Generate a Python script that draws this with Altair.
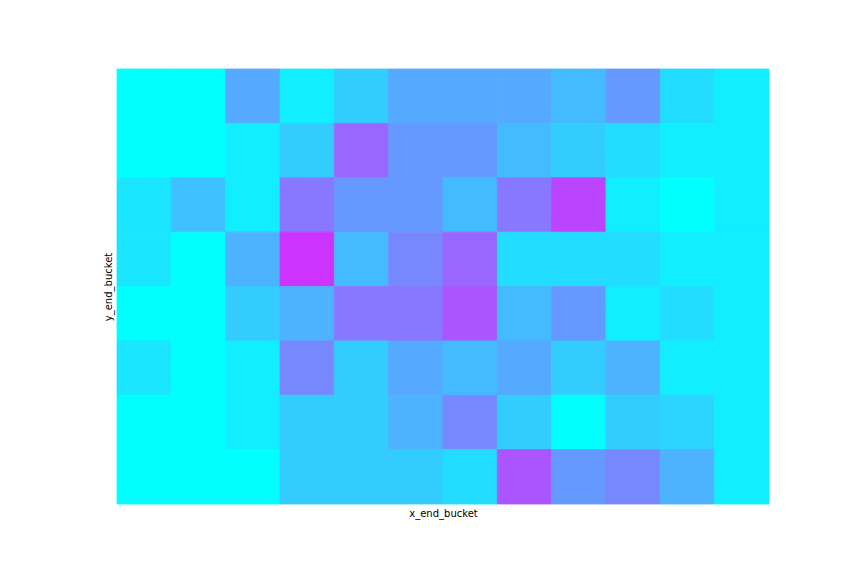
import altair as alt
import pandas as pd

x_buckets = list(range(12))
y_buckets = list(range(8))

# counts per row (top row first)
row0 = [0, 0, 5, 1, 3, 5, 5, 5, 4, 6, 2, 1]
row1 = [0, 0, 1, 3, 9, 6, 6, 4, 3, 2, 1, 1]
row2 = [1.5, 3.7, 1, 8, 6, 6, 4, 8, 11, 1, 0, 1]
row3 = [1.5, 0, 4.5, 12, 4, 7, 9, 2, 2, 2, 1, 1]
row4 = [0, 0, 3, 4.5, 8, 8, 10, 4, 6, 1, 2, 1]
row5 = [1.5, 0, 1, 7, 3, 5, 4, 5, 3, 4.5, 1, 1]
row6 = [0, 0, 1, 3, 3, 4.5, 7, 3, 0, 3, 2.5, 1]
row7 = [0, 0, 0, 3, 3, 3, 2, 10, 6, 7, 4.5, 1]
rows = [row0, row1, row2, row3, row4, row5, row6, row7]

records = []
for yi, r in zip(y_buckets, rows):
    for xi, v in zip(x_buckets, r):
        records.append({"x_end_bucket": xi, "y_end_bucket": yi, "value": v})
df = pd.DataFrame(records)

axis_common = dict(labels=False, ticks=False, domain=False, grid=False,
                   titleFont="DejaVu Sans", titleFontSize=10,
                   titleFontWeight="normal", titleColor="black", titlePadding=4)

cscale = alt.Scale(domain=[0, 15], range=["#00ffff", "#ff00ff"], interpolate="rgb")

chart = alt.Chart(df).mark_rect(strokeWidth=0.8).encode(
    x=alt.X("x_end_bucket:O",
            scale=alt.Scale(paddingInner=0, paddingOuter=0),
            axis=alt.Axis(title="x_end_bucket", **axis_common)),
    y=alt.Y("y_end_bucket:O",
            scale=alt.Scale(paddingInner=0, paddingOuter=0),
            axis=alt.Axis(title="y_end_bucket", **axis_common)),
    color=alt.Color("value:Q", scale=cscale, legend=None),
    stroke=alt.Stroke("value:Q", scale=cscale, legend=None),
).properties(
    width=652, height=435,
    autosize=alt.AutoSizeParams(type="none"),
    padding={"left": 109, "top": 61, "right": 80, "bottom": 60},
).configure_view(strokeWidth=0)

chart.save("out.html", embed_options={"renderer": "svg", "actions": False})
